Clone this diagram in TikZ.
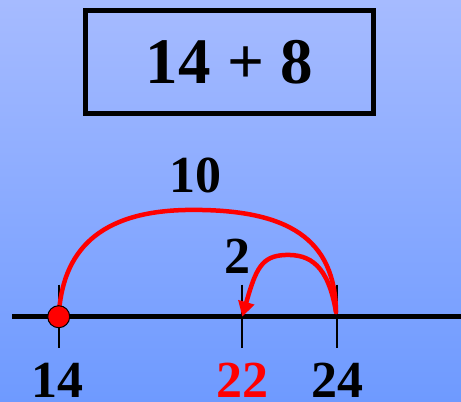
\documentclass[tikz,border=0pt]{standalone}
\usepackage{fontspec}
\setmainfont{Liberation Serif}
\usepackage{tikz}
\usetikzlibrary{arrows.meta,calc}
\definecolor{bgtop}{HTML}{A6BBFF}
\definecolor{bgbottom}{HTML}{6E9AFF}
\definecolor{jumpred}{HTML}{FF0000}

\begin{document}
\begin{tikzpicture}[x=1pt, y=-1pt,
  title/.style={draw=black, line width=5pt, minimum width=288pt, minimum height=103pt,
    inner sep=0pt, font=\fontsize{65}{65}\selectfont\bfseries},
  num/.style={inner sep=0pt, font=\fontsize{52}{52}\selectfont\bfseries},
  axis/.style={line width=5pt, draw=black},
  tick/.style={line width=2pt, draw=black},
  jump/.style={line width=4.5pt, draw=jumpred, line cap=round},
  dot/.style={circle, fill=jumpred, draw=black, line width=1pt, minimum size=22pt, inner sep=0pt}
]
% background
\fill[top color=bgtop, bottom color=bgbottom] (0,0) rectangle (461,402);
\useasboundingbox (0,0) rectangle (461,402);

\node[title] (sum) at (229.5,62) {14 + 8};

% number line
\coordinate (lstart) at (12,316.7);
\coordinate (lend) at (461,316.7);
\draw[axis] (lstart) -- (lend);
\foreach \name/\x in {n14/58.7, n22/242.3, n24/337.3} {
  \coordinate (\name) at (\x,316.7);
  \draw[tick] ($(\name)+(0,-32)$) -- ($(\name)+(0,31)$);
}

\node[num] (l14) at (57,380.5) {14};
\node[num, text=jumpred] (l22) at (242,380.5) {22};
\node[num] (l24) at (337,380.5) {24};

% jumps
\coordinate (j24) at (336,312);
\draw[jump] (n14) .. controls (62,250) and (100,212) .. (185,210)
  .. controls (290,208) and (335,240) .. (j24);
\draw[jump, -{Triangle[length=15pt,width=16pt]}] (j24) .. controls (328,265) and (310,254) .. (285,255)
  .. controls (262,256) and (256,268) .. (n22);
\node[dot] (start) at (n14) {};

\node[num] (ten) at (195,175) {10};
\node[num] (two) at (237,256) {2};
\end{tikzpicture}
\end{document}
